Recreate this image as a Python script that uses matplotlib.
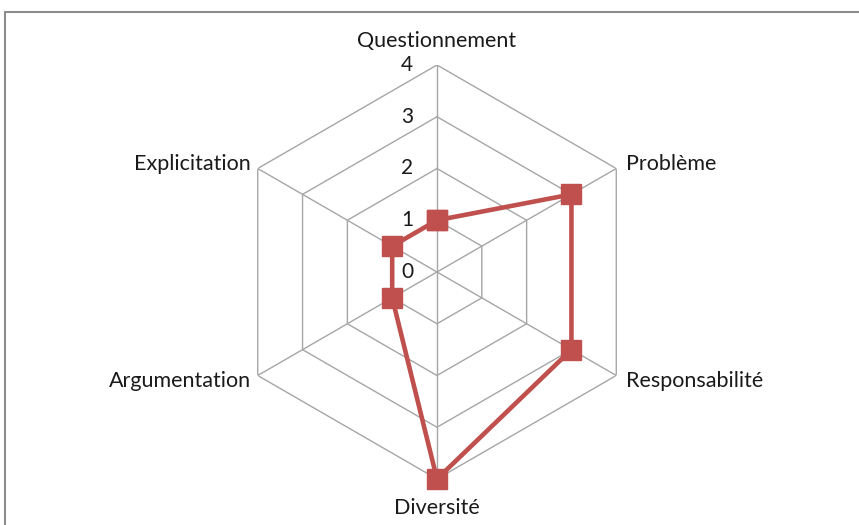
import numpy as np
import matplotlib
matplotlib.use("Agg")
import matplotlib.pyplot as plt
from matplotlib.patches import Rectangle

categories = ["Questionnement", "Problème", "Responsabilité", "Diversité", "Argumentation", "Explicitation"]
values = [1, 3, 3, 4, 1, 1]
rticks = [0, 1, 2, 3, 4]

W, H = 859, 525
fig = plt.figure(figsize=(W / 100, H / 100), dpi=100)
plt.rcParams['font.family'] = ['Lato', 'DejaVu Sans']

cx, cy, R = 437, 272, 207
ax = fig.add_axes([(cx - R) / W, (H - cy - R) / H, 2 * R / W, 2 * R / H], projection='polar')
ax.set_theta_zero_location('N')
ax.set_theta_direction(-1)
ax.set_ylim(0, 4)
ax.grid(False)
ax.spines['polar'].set_visible(False)
ax.set_xticks([])
ax.set_yticks([])
ax.patch.set_alpha(0)

n = len(categories)
angles = np.arange(n) * 2 * np.pi / n
grid_col = '#A6A6A6'
for r in rticks[1:]:
    ax.plot(np.append(angles, angles[0]), [r] * (n + 1), color=grid_col, lw=1, zorder=1)
for a in angles:
    ax.plot([a, a], [0, 4], color=grid_col, lw=1, zorder=1)

ax.plot(np.append(angles, angles[0]), values + [values[0]], color='#C0504D', lw=3.3,
        marker='s', markersize=14, markerfacecolor='#C0504D', markeredgecolor='#C0504D',
        zorder=3, clip_on=False)

for r in rticks:
    ax.annotate(str(r), xy=(0, r), xytext=(-17, 0), textcoords='offset points',
                ha='right', va='center', fontsize=15, color='#1a1a1a')

offsets = {
    0: (0, 10, 'center', 'bottom'),
    1: (7, 3, 'left', 'center'),
    2: (7, -4, 'left', 'center'),
    3: (0, -14, 'center', 'top'),
    4: (-5, -4, 'right', 'center'),
    5: (-5, 3, 'right', 'center'),
}
for i, (a, lab) in enumerate(zip(angles, categories)):
    dx, dy, ha, va = offsets[i]
    ax.annotate(lab, xy=(a, 4), xytext=(dx, dy), textcoords='offset points',
                ha=ha, va=va, fontsize=15.5, color='#1a1a1a')

fig.patches.append(Rectangle((5 / W, -0.1), 1.2, (H - 12) / H + 0.1, transform=fig.transFigure,
                             fill=False, edgecolor='#8C8C8C', lw=1.5))

fig.savefig('out.png', dpi=100)
